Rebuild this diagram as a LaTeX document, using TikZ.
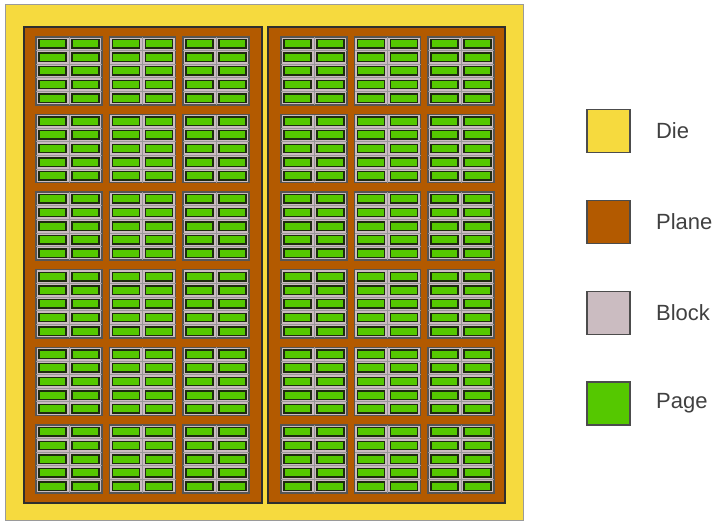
\documentclass[tikz,border=0pt]{standalone}
\usepackage{fontspec}
\setmainfont{Liberation Sans}
\usetikzlibrary{positioning}
\definecolor{DieFill}{HTML}{F6DA3E}
\definecolor{DieLine}{HTML}{9A9A9A}
\definecolor{PlaneFill}{HTML}{B35A00}
\definecolor{PlaneLine}{HTML}{2E2E2E}
\definecolor{BlockFill}{HTML}{CBBCC1}
\definecolor{BlockLine}{HTML}{555555}
\definecolor{BlockGrid}{HTML}{999699}
\definecolor{PageFill}{HTML}{55C800}
\definecolor{PageLine}{HTML}{1E2A10}

\begin{document}
\begin{tikzpicture}[x=0.5pt, y=-0.5pt,
  planebox/.style={draw=PlaneLine, fill=PlaneFill, line width=0.7pt},
  blockbox/.style={draw=BlockLine, fill=BlockFill, line width=0.7pt},
  pagebox/.style={draw=PageLine, fill=PageFill, line width=0.7pt},
  keybox/.style={draw=black!70, line width=0.7pt, minimum size=21.5pt, inner sep=0pt},
  keytext/.style={font=\fontsize{11}{13}\selectfont, text=black!75, inner sep=0pt}]
  \useasboundingbox (0,0) rectangle (721,523);

  % die
  \draw[draw=DieLine, fill=DieFill, line width=0.5pt] (5,5) rectangle (523,520);

  % planes
  \draw[planebox] (24,27) rectangle (262,503);
  \draw[planebox] (268,27) rectangle (505,503);

  % blocks with their pages
  \foreach \px in {36, 281} {
    \foreach \c in {0,1,2} {
      \foreach \r in {0,...,5} {
        \pgfmathsetmacro{\bx}{\px + 73.5*\c}
        \pgfmathsetmacro{\by}{37 + 77.6*\r}
        \begin{scope}[shift={(\bx,\by)}]
          \draw[blockbox] (0,0) rectangle (66,68);
          \draw[BlockGrid, line width=0.4pt] (33,0) -- (33,68);
          \foreach \j in {1,...,4}
            \draw[BlockGrid, line width=0.4pt] (0,13.6*\j) -- (66,13.6*\j);
          \foreach \i in {0,1} {
            \foreach \j in {0,...,4}
              \draw[pagebox] (33*\i+3,13.6*\j+2.6) rectangle ++(27,8.4);
          }
        \end{scope}
      }
    }
  }

  % legend
  \node[keybox, fill=DieFill] (dieKey) at (608.5,131) {};
  \node[keytext, right=12.5pt of dieKey] (dieText) {Die};
  \node[keybox, fill=PlaneFill] (planeKey) at (608.5,222) {};
  \node[keytext, right=12.5pt of planeKey] (planeText) {Plane};
  \node[keybox, fill=BlockFill] (blockKey) at (608.5,313) {};
  \node[keytext, right=12.5pt of blockKey] (blockText) {Block};
  \node[keybox, fill=PageFill] (pageKey) at (608.5,403.5) {};
  \node[keytext, right=12.5pt of pageKey] (pageText) {Page};
\end{tikzpicture}
\end{document}
